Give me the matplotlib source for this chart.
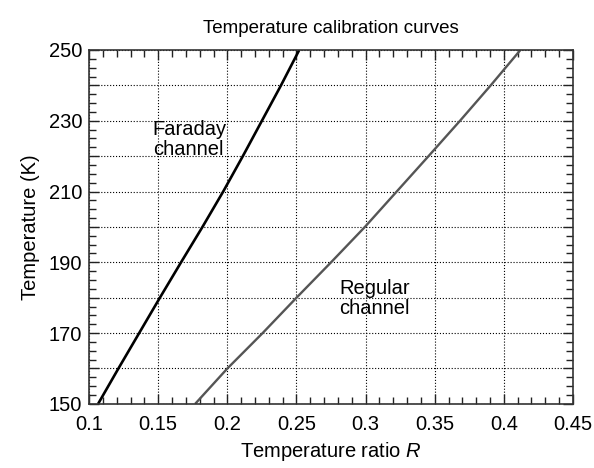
import matplotlib
matplotlib.use("Agg")
import matplotlib.pyplot as plt
from matplotlib.ticker import MultipleLocator, FuncFormatter

plt.rcParams['font.family'] = ['Liberation Sans', 'DejaVu Sans']
plt.rcParams['mathtext.fontset'] = 'custom'
plt.rcParams['mathtext.it'] = 'Liberation Sans:italic'
plt.rcParams['mathtext.rm'] = 'Liberation Sans'

# ---------------------- DADOS -------------------------
temperatura = [150, 160, 170, 180, 190, 200, 210, 220, 230, 240, 250]
razao_faraday = [0.1065, 0.1212, 0.1362, 0.1512, 0.1665, 0.1820, 0.1970, 0.2112, 0.2250, 0.2388, 0.2520]
razao_regular = [0.1767, 0.2000, 0.2255, 0.2500, 0.2750, 0.2995, 0.3225, 0.3455, 0.3683, 0.3905, 0.4120]

rotulo_faraday = "Faraday\nchannel"
rotulo_regular = "Regular\nchannel"

# ---------------------- PLOT -------------------------
fig = plt.figure(figsize=(5.94, 4.68), dpi=100)
ax = fig.add_axes([0.150, 0.137, 0.8146, 0.7562])

ax.plot(razao_faraday, temperatura, color='black', lw=1.9, solid_capstyle='butt')
ax.plot(razao_regular, temperatura, color='#555555', lw=1.7, solid_capstyle='butt')

ax.text(0.146, 224.6, rotulo_faraday, fontsize=14.5, ha='left', va='center', linespacing=1.05)
ax.text(0.281, 179.7, rotulo_regular, fontsize=14.5, ha='left', va='center', linespacing=1.05)

ax.set_xlim(0.1, 0.45)
ax.set_ylim(150, 250)

ax.xaxis.set_major_locator(MultipleLocator(0.05))
ax.xaxis.set_minor_locator(MultipleLocator(0.01))
ax.yaxis.set_major_locator(MultipleLocator(10))
ax.yaxis.set_minor_locator(MultipleLocator(2.5))

ax.xaxis.set_major_formatter(FuncFormatter(lambda v, p: f"{v:g}"))
ax.yaxis.set_major_formatter(FuncFormatter(lambda v, p: f"{int(round(v))}" if int(round(v)) % 20 == 10 else ""))

ax.grid(True, which='major', color='black', linestyle=':', linewidth=0.8)
ax.tick_params(which='both', direction='in', top=True, right=True, colors='#222222', labelcolor='black', labelsize=14.5)
ax.tick_params(which='major', length=7, width=1.0)
ax.tick_params(axis='x', which='major', pad=8)
ax.tick_params(axis='y', which='major', pad=5)
ax.tick_params(which='minor', length=5, width=1.0)

for s in ax.spines.values():
    s.set_linewidth(1.2)
    s.set_color('#333333')

ax.set_title("Temperature calibration curves", fontsize=13.5, pad=12)
ax.set_xlabel("Temperature ratio $R$", fontsize=14.5, labelpad=4)
ax.set_ylabel("Temperature (K)", fontsize=14.5, labelpad=6)

fig.savefig("out.png", dpi=100)
